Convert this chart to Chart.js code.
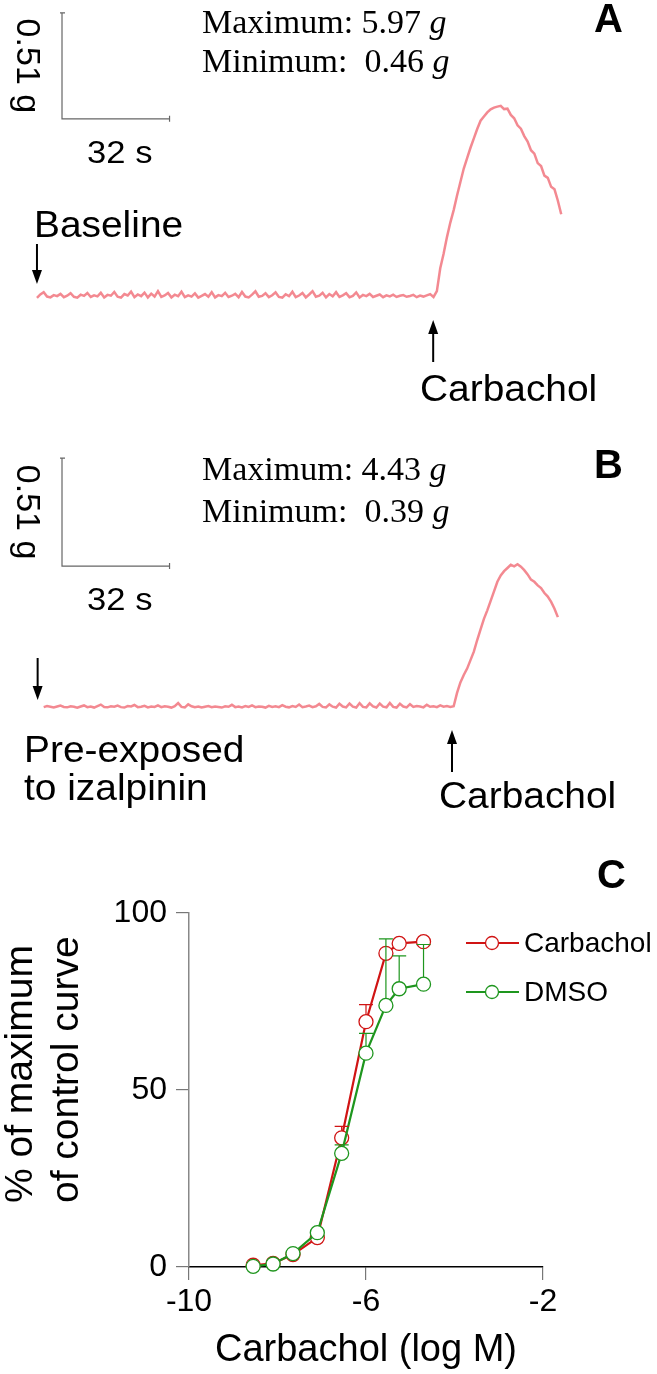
<!DOCTYPE html>
<html>
<head>
<meta charset="utf-8">
<script src="https://cdn.jsdelivr.net/npm/chart.js@4.4.1/dist/chart.umd.min.js"></script>
<style>
  body { margin: 0; background: #fff; }
  #figure { position: relative; width: 657px; height: 1374px; }
  .panel { position: absolute; left: 0; width: 657px; }
</style>
</head>
<body>
<div id="figure">
  <div class="panel" style="top:0;height:420px"><canvas id="panelA"></canvas></div>
  <div class="panel" style="top:420px;height:400px"><canvas id="panelB"></canvas></div>
  <div class="panel" style="top:820px;height:554px"><canvas id="panelC"></canvas></div>
</div>
<script>
// ---- panel A: tension trace (g), one sample per second from t = 11 s ----
const traceAStart = 11;
const traceA = [
  0.588, 0.604, 0.615, 0.594, 0.590, 0.601, 0.596, 0.607, 0.591, 0.598,
  0.610, 0.593, 0.589, 0.603, 0.597, 0.611, 0.592, 0.600, 0.595, 0.612,
  0.590, 0.602, 0.598, 0.616, 0.593, 0.589, 0.606, 0.599, 0.618, 0.591,
  0.604, 0.596, 0.613, 0.590, 0.608, 0.594, 0.620, 0.592, 0.599, 0.611,
  0.590, 0.603, 0.596, 0.617, 0.591, 0.600, 0.594, 0.609, 0.589, 0.597,
  0.606, 0.593, 0.615, 0.590, 0.601, 0.596, 0.612, 0.592, 0.598, 0.607,
  0.591, 0.616, 0.594, 0.590, 0.603, 0.619, 0.593, 0.597, 0.610, 0.591,
  0.600, 0.614, 0.592, 0.589, 0.605, 0.596, 0.617, 0.591, 0.599, 0.611,
  0.590, 0.604, 0.620, 0.593, 0.598, 0.612, 0.590, 0.606, 0.595, 0.615,
  0.592, 0.600, 0.610, 0.591, 0.597, 0.614, 0.590, 0.602, 0.596, 0.607,
  0.592, 0.598, 0.604, 0.591, 0.600, 0.595, 0.603, 0.592, 0.598, 0.601,
  0.593, 0.597, 0.602, 0.591, 0.599, 0.594, 0.600, 0.606, 0.592,
  0.620, 0.730, 0.800, 0.880, 0.950, 1.010, 1.080, 1.145, 1.210, 1.260,
  1.310, 1.355, 1.400, 1.440, 1.460, 1.480, 1.495, 1.503,
  1.508, 1.512, 1.496, 1.498, 1.468, 1.452, 1.418, 1.402, 1.366, 1.340,
  1.298, 1.282, 1.236, 1.222, 1.176, 1.165, 1.122, 1.110, 1.055, 0.990
];
const extremesA = [5.97, 0.46];        // maximum, minimum (g)
const eventTimesA = [11.0, 128.9];     // baseline, carbachol added (s)

// ---- panel B: trace after izalpinin, one sample per second from t = 13 s ----
const traceBStart = 13;
const traceB = [
  0.533, 0.538, 0.535, 0.531, 0.536, 0.540, 0.534, 0.532, 0.537, 0.535,
  0.530, 0.536, 0.541, 0.533, 0.536, 0.531, 0.538, 0.545, 0.534, 0.532,
  0.537, 0.535, 0.540, 0.533, 0.531, 0.538, 0.536, 0.543, 0.533, 0.535,
  0.539, 0.532, 0.536, 0.534, 0.541, 0.533, 0.537, 0.535, 0.531, 0.538,
  0.552, 0.534, 0.532, 0.546, 0.537, 0.533, 0.536, 0.531, 0.535, 0.538,
  0.533, 0.536, 0.534, 0.531, 0.537, 0.535, 0.544, 0.533, 0.536, 0.532,
  0.538, 0.534, 0.541, 0.533, 0.536, 0.535, 0.531, 0.539, 0.534, 0.537,
  0.533, 0.542, 0.535, 0.532, 0.538, 0.534, 0.545, 0.533, 0.536, 0.540,
  0.533, 0.537, 0.548, 0.534, 0.532, 0.546, 0.535, 0.531, 0.549, 0.536,
  0.532, 0.550, 0.535, 0.531, 0.552, 0.534, 0.532, 0.551, 0.536, 0.531,
  0.550, 0.535, 0.532, 0.553, 0.534, 0.531, 0.549, 0.536, 0.532, 0.547,
  0.534, 0.538, 0.536, 0.532, 0.544, 0.535, 0.537, 0.533, 0.541, 0.535,
  0.538, 0.534, 0.537,
  0.600, 0.650, 0.685, 0.715, 0.755, 0.795, 0.850, 0.900, 0.950, 0.990,
  1.035, 1.080, 1.125, 1.155, 1.175, 1.190, 1.205, 1.198, 1.208, 1.196,
  1.180, 1.160, 1.135, 1.125, 1.108, 1.095, 1.072, 1.055, 1.030, 0.998,
  0.958
];
const extremesB = [4.43, 0.39];
const eventTimesB = [11.2, 134.5];

// calibration bar
const barGrams = 0.51;
const barSeconds = 32;

// ---- panel C: concentration-response ----
const logConc = [-8.55, -8.1, -7.65, -7.1, -6.55, -6.0, -5.55, -5.25, -4.7];
const carbachol = [0.5, 1.0, 3.5, 8.3, 36.5, 69.3, 88.6, 91.4, 91.9];
const carbacholSem = [0, 0, 0, 0, 3.2, 4.8, 0, 0, 0];
const dmso = [0.2, 0.85, 3.8, 9.7, 32.1, 60.4, 73.9, 78.6, 79.9];
const dmsoSem = [0, 0, 0, 0, 2.4, 5.6, 18.8, 9.3, 11.2];
const xTicks = [-10, -6, -2];
const yTicks = [0, 50, 100];

const sans = '"Liberation Sans", Arial, sans-serif';
const serif = '"Liberation Serif", "Times New Roman", serif';
const red = 'rgb(208, 20, 20)';
const green = 'rgb(30, 150, 30)';

function drawText(ctx, str, x, y, font, sx, align) {
  ctx.save();
  ctx.translate(x, y);
  ctx.scale(sx || 1, 1);
  ctx.font = font;
  ctx.fillStyle = '#000';
  ctx.textAlign = align || 'left';
  ctx.textBaseline = 'alphabetic';
  ctx.fillText(str, 0, 0);
  ctx.restore();
}

function drawArrow(ctx, x, yFrom, yTo) {
  const dir = Math.sign(yTo - yFrom);
  ctx.beginPath();
  ctx.moveTo(x, yFrom);
  ctx.lineTo(x, yTo - dir * 10);
  ctx.stroke();
  ctx.beginPath();
  ctx.moveTo(x, yTo);
  ctx.lineTo(x - 5, yTo - dir * 14);
  ctx.lineTo(x + 5, yTo - dir * 14);
  ctx.closePath();
  ctx.fill();
}

// scale bar, arrows and text of the trace panels
const traceNotes = {
  id: 'traceNotes',
  afterDatasetsDraw(chart, args, o) {
    const ctx = chart.ctx;
    const x = chart.scales.x, y = chart.scales.y;
    ctx.save();
    const bx = x.getPixelForValue(o.bar[0]);
    const by = y.getPixelForValue(o.bar[1]);
    const bxEnd = x.getPixelForValue(o.bar[0] + barSeconds);
    const byTop = y.getPixelForValue(o.bar[1] + barGrams);
    ctx.strokeStyle = '#666';
    ctx.lineWidth = 1.2;
    ctx.beginPath();
    ctx.moveTo(bx - 2, byTop); ctx.lineTo(bx + 3, byTop);
    ctx.moveTo(bx, byTop); ctx.lineTo(bx, by); ctx.lineTo(bxEnd, by);
    ctx.moveTo(bxEnd, by - 3); ctx.lineTo(bxEnd, by + 3);
    ctx.stroke();

    ctx.save();
    ctx.translate(bx - 36, (by + byTop) / 2);
    ctx.rotate(Math.PI / 2);
    ctx.font = '34px ' + sans;
    ctx.fillStyle = '#000';
    ctx.textAlign = 'center';
    ctx.textBaseline = 'middle';
    ctx.fillText(barGrams + ' g', 0, 0);
    ctx.restore();
    drawText(ctx, barSeconds + ' s', (bx + bxEnd) / 2 + 4, by + 44, '32px ' + sans, 1.08, 'center');

    // maximum / minimum
    const rows = [['Maximum: ', o.extremes[0]], ['Minimum:  ', o.extremes[1]]];
    rows.forEach((r, i) => {
      const s = r[0] + r[1].toFixed(2) + ' ';
      ctx.font = '34px ' + serif;
      const w = ctx.measureText(s).width;
      drawText(ctx, s, 202, o.textY[i], '34px ' + serif);
      drawText(ctx, 'g', 202 + w, o.textY[i], 'italic 34px ' + serif);
    });
    drawText(ctx, o.letter, 594, o.letterY, 'bold 40px ' + sans);

    // event arrows and their labels
    ctx.strokeStyle = '#000';
    ctx.fillStyle = '#000';
    ctx.lineWidth = 2;
    o.events.forEach((ev, i) => {
      drawArrow(ctx, x.getPixelForValue(o.times[i]), ev.from, ev.to);
      ev.lines.forEach((line, k) => {
        drawText(ctx, line, ev.tx, ev.ty + k * 38, '36px ' + sans, 1.08);
      });
    });
    ctx.restore();
  }
};

function traceChart(id, values, start, yMax, notes) {
  return new Chart(document.getElementById(id), {
    type: 'line',
    data: {
      datasets: [{
        data: values.map((v, i) => ({ x: start + i, y: v })),
        borderColor: 'rgba(240, 108, 118, 0.8)',
        borderWidth: 2.5,
        pointRadius: 0,
        tension: 0
      }]
    },
    options: {
      responsive: true,
      maintainAspectRatio: false,
      animation: false,
      layout: { padding: 0 },
      plugins: {
        legend: { display: false },
        tooltip: { enabled: false },
        traceNotes: notes
      },
      scales: {
        x: { type: 'linear', display: false, min: 0, max: 195.5 },
        y: { display: false, min: 0, max: yMax }
      }
    },
    plugins: [traceNotes]
  });
}

traceChart('panelA', traceA, traceAStart, 2.021, {
  bar: [18.45, 1.449],
  extremes: extremesA,
  textY: [33, 72],
  letter: 'A', letterY: 32,
  times: eventTimesA,
  events: [
    { from: 244, to: 284, lines: ['Baseline'], tx: 34, ty: 237 },
    { from: 362, to: 320, lines: ['Carbachol'], tx: 420, ty: 401 }
  ]
});

traceChart('panelB', traceB, traceBStart, 1.889, {
  bar: [18.45, 1.199],
  extremes: extremesB,
  textY: [60, 102],
  letter: 'B', letterY: 58,
  times: eventTimesB,
  events: [
    { from: 238, to: 280, lines: ['Pre-exposed', 'to izalpinin'], tx: 24, ty: 342 },
    { from: 352, to: 310, lines: ['Carbachol'], tx: 439, ty: 388 }
  ]
});

// error bars (upper SEM), legend, y title and panel letter of panel C
const doseNotes = {
  id: 'doseNotes',
  afterDatasetsDraw(chart, args, o) {
    const ctx = chart.ctx;
    const x = chart.scales.x, y = chart.scales.y;
    ctx.save();
    chart.data.datasets.forEach((ds, d) => {
      ctx.strokeStyle = ds.borderColor;
      ctx.lineWidth = 1.2;
      o.sem[d].forEach((e, i) => {
        if (!e) return;
        const px = x.getPixelForValue(ds.data[i].x);
        const p0 = y.getPixelForValue(ds.data[i].y) - ds.pointRadius;
        const p1 = y.getPixelForValue(ds.data[i].y + e);
        if (p1 >= p0) return;
        ctx.beginPath();
        ctx.moveTo(px, p0); ctx.lineTo(px, p1);
        ctx.moveTo(px - 7, p1); ctx.lineTo(px + 7, p1);
        ctx.stroke();
      });
    });

    // legend
    chart.data.datasets.forEach((ds, d) => {
      const ly = 123 + d * 49;
      ctx.strokeStyle = ds.borderColor;
      ctx.lineWidth = ds.borderWidth;
      ctx.beginPath(); ctx.moveTo(466, ly); ctx.lineTo(519, ly); ctx.stroke();
      ctx.lineWidth = ds.pointBorderWidth;
      ctx.fillStyle = '#fff';
      ctx.beginPath(); ctx.arc(492, ly, ds.pointRadius - 0.5, 0, Math.PI * 2); ctx.fill(); ctx.stroke();
      ctx.fillStyle = '#000';
      ctx.font = '28px ' + sans;
      ctx.textAlign = 'left';
      ctx.textBaseline = 'middle';
      ctx.fillText(ds.label, 524, ly + 1);
    });

    // y axis title, two rotated lines
    o.yTitle.forEach((line, k) => {
      ctx.save();
      ctx.translate(32 + k * 46, 383);
      ctx.rotate(-Math.PI / 2);
      ctx.font = '39px ' + sans;
      ctx.fillStyle = '#000';
      ctx.textAlign = 'left';
      ctx.textBaseline = 'alphabetic';
      ctx.fillText(line, 0, 0);
      ctx.restore();
    });
    drawText(ctx, 'C', 597, 68, 'bold 40px ' + sans);
    ctx.restore();
  }
};

const toPoints = vals => vals.map((v, i) => ({ x: logConc[i], y: v }));

new Chart(document.getElementById('panelC'), {
  type: 'line',
  data: {
    datasets: [
      {
        label: 'Carbachol',
        data: toPoints(carbachol),
        borderColor: red,
        borderWidth: 2.2,
        pointStyle: 'circle',
        pointRadius: 7,
        pointBorderWidth: 1.3,
        pointBackgroundColor: '#fff',
        pointBorderColor: red,
        tension: 0,
        clip: false,
        order: 1
      },
      {
        label: 'DMSO',
        data: toPoints(dmso),
        borderColor: green,
        borderWidth: 2.2,
        pointStyle: 'circle',
        pointRadius: 7,
        pointBorderWidth: 1.3,
        pointBackgroundColor: '#fff',
        pointBorderColor: green,
        tension: 0,
        clip: false,
        order: 0
      }
    ]
  },
  options: {
    responsive: true,
    maintainAspectRatio: false,
    animation: false,
    layout: { padding: { top: 93, right: 114, left: 0, bottom: 0 } },
    plugins: {
      legend: { display: false },
      tooltip: { enabled: false },
      doseNotes: {
        sem: [carbacholSem, dmsoSem],
        yTitle: ['% of maximum', 'of control curve']
      }
    },
    scales: {
      x: {
        type: 'linear',
        min: -10,
        max: -2,
        afterFit(scale) { scale.height = 107; },
        afterBuildTicks(scale) { scale.ticks = xTicks.map(v => ({ value: v })); },
        border: { color: '#000', width: 1.5 },
        grid: { drawOnChartArea: false, drawTicks: true, tickLength: 13, color: '#777', lineWidth: 1.2 },
        ticks: { color: '#000', padding: 3, maxRotation: 0, font: { family: sans, size: 32 } },
        title: {
          display: true,
          text: 'Carbachol (log M)',
          color: '#000',
          font: { family: sans, size: 38 },
          padding: { top: 0, bottom: 1 }
        }
      },
      y: {
        min: 0,
        max: 100,
        afterFit(scale) { scale.width = 189; },
        afterBuildTicks(scale) { scale.ticks = yTicks.map(v => ({ value: v })); },
        border: { color: '#888', width: 1.5 },
        grid: { drawOnChartArea: false, drawTicks: true, tickLength: 13, color: '#777', lineWidth: 1.2 },
        ticks: { color: '#000', padding: 9, font: { family: sans, size: 32 } }
      }
    }
  },
  plugins: [doseNotes]
});
</script>
</body>
</html>
